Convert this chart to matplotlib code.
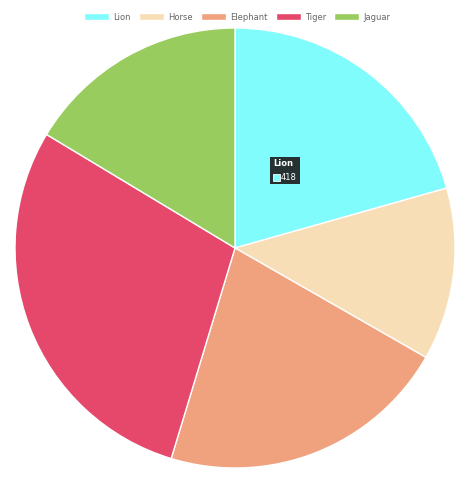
import matplotlib
matplotlib.use("Agg")
import matplotlib.pyplot as plt
from matplotlib.patches import Patch

labels = ["Lion", "Horse", "Elephant", "Tiger", "Jaguar"]
values = [418, 257, 434, 587, 332]
colors = ["#80FCFC", "#F8DEB6", "#F0A17D", "#E5486B", "#98CC5E"]

fig = plt.figure(figsize=(4.74, 4.83), dpi=100)
ax = fig.add_axes([15/474, 15/483, 440/474, 440/483])
ax.pie(values, colors=colors, startangle=90, counterclock=False,
       wedgeprops=dict(edgecolor="white", linewidth=1), radius=1)
ax.set_xlim(-1, 1); ax.set_ylim(-1, 1); ax.set_aspect("equal")
ax.axis("off")

handles = [Patch(facecolor=c, edgecolor="white", label=l) for l, c in zip(labels, colors)]
fig.legend(handles=handles, loc="center", bbox_to_anchor=(0.5, 1 - 17/483), ncol=5,
           frameon=False, fontsize=6, handlelength=3, handleheight=0.8,
           columnspacing=1.0, handletextpad=0.5, labelcolor="#666666")

# tooltip
tx, ty = 270/474, 1 - 160/483
fig.patches.append(plt.Rectangle((tx, ty - 24/483), 30/474, 27/483, transform=fig.transFigure,
                                 facecolor="#1c1c1c", edgecolor="none", alpha=0.9))
fig.text(tx + 3/474, ty - 3/483, "Lion", color="white", fontsize=6, fontweight="bold", va="center")
fig.patches.append(plt.Rectangle((tx + 3/474, ty - 21/483), 7/474, 7/483, transform=fig.transFigure,
                                 facecolor="#80FCFC", edgecolor="white", linewidth=0.6))
fig.text(tx + 11/474, ty - 17.5/483, "418", color="white", fontsize=6, va="center")

fig.savefig("out.png", dpi=100)
